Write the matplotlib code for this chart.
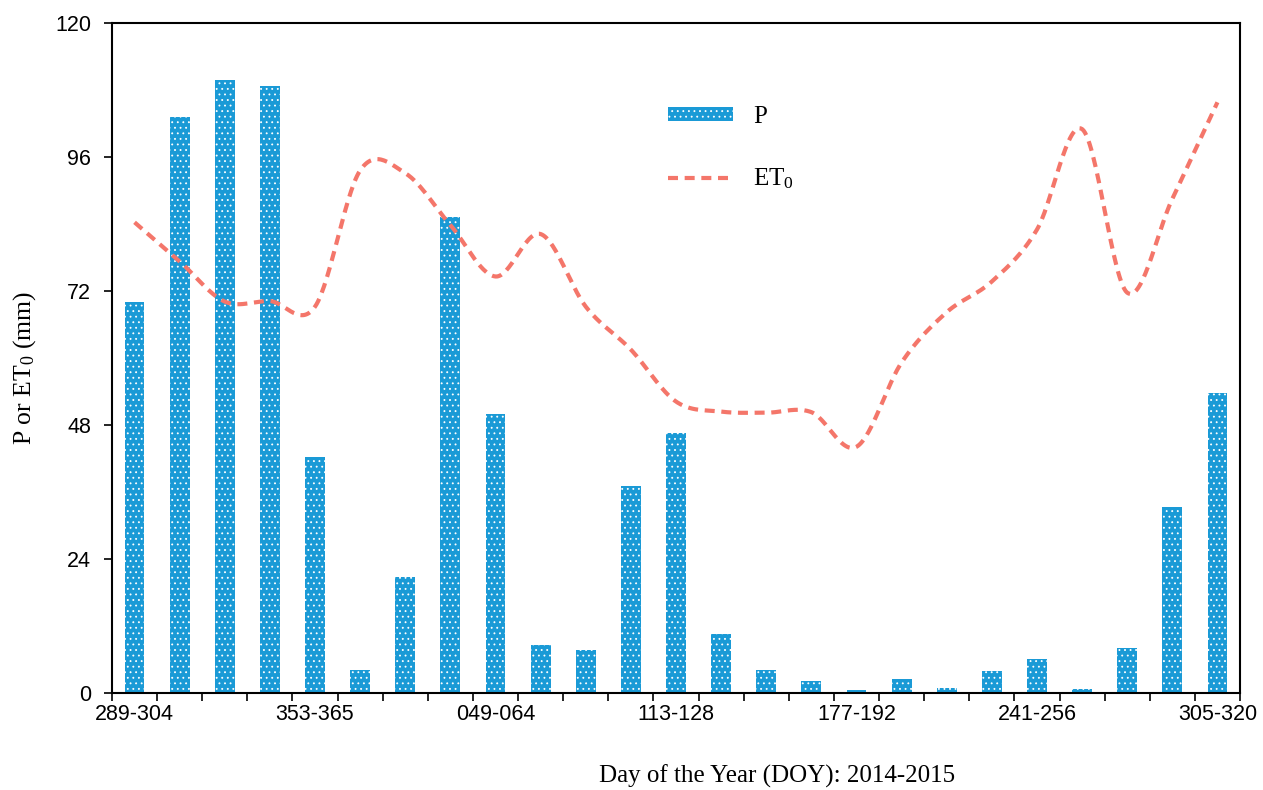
import numpy as np
import matplotlib
matplotlib.use("Agg")
from matplotlib import pyplot as plt

periods = ['289-304', '305-320', '321-336', '337-352', '353-365', '001-016',
           '017-032', '033-048', '049-064', '065-080', '081-096', '097-112',
           '113-128', '129-144', '145-160', '161-176', '177-192', '193-208',
           '209-224', '225-240', '241-256', '257-272', '273-288', '289-304',
           '305-320']

P = [70.1, 103.1, 109.8, 108.7, 42.3, 4.1, 20.8, 85.2, 49.9, 8.6, 7.7, 37.1,
     46.6, 10.6, 4.1, 2.2, 0.5, 2.5, 0.9, 3.9, 6.1, 0.7, 8.1, 33.4, 53.8]

ET0 = [84.3, 77.3, 70.1, 70.2, 69.2, 93.6, 93.1, 83.8, 74.6, 82.2, 69.2, 61.5,
       52.2, 50.4, 50.2, 50.3, 44.1, 59.2, 68.2, 73.7, 83.0, 101.0, 71.7, 88.5,
       105.8]

yticks = [0, 24, 48, 72, 96, 120]


def smooth(y, n=30):
    # catmull-rom curve through the points, like a spreadsheet "smoothed line"
    y = np.asarray(y, dtype=float)
    x = np.arange(len(y), dtype=float)
    m = np.zeros_like(y)
    m[1:-1] = (y[2:] - y[:-2]) / 2.0
    m[0] = y[1] - y[0]
    m[-1] = y[-1] - y[-2]
    xs, ys = [], []
    for i in range(len(y) - 1):
        t = np.linspace(0, 1, n, endpoint=False)
        h00 = 2 * t**3 - 3 * t**2 + 1
        h10 = t**3 - 2 * t**2 + t
        h01 = -2 * t**3 + 3 * t**2
        h11 = t**3 - t**2
        xs.append(x[i] + t)
        ys.append(h00 * y[i] + h10 * m[i] + h01 * y[i + 1] + h11 * m[i + 1])
    xs.append([x[-1]])
    ys.append([y[-1]])
    return np.concatenate(xs), np.concatenate(ys)


plt.rcParams['hatch.linewidth'] = 0.6
plt.rcParams['mathtext.fontset'] = 'custom'
plt.rcParams['mathtext.rm'] = 'Liberation Serif'
plt.rcParams['mathtext.it'] = 'Liberation Serif:italic'

fig = plt.figure(figsize=(12.63, 7.90), dpi=100)
ax = fig.add_axes([112 / 1263, 97 / 790, (1240 - 112) / 1263, (693 - 23) / 790])

blue = '#1a9ad6'
red = '#f4766a'
x = np.arange(len(P))

bars = ax.bar(x, P, width=0.44, color=blue, edgecolor='white', linewidth=0,
              hatch='...', label='P', zorder=2)

xs, ys = smooth(ET0)
line, = ax.plot(xs, ys, color=red, lw=3, dashes=(2.4, 1.6), label='ET$_0$', zorder=3)

ax.set_xlim(-0.5, len(P) - 0.5)
ax.set_ylim(0, 120)
ax.set_yticks(yticks)
ax.set_yticklabels([str(v) for v in yticks], fontsize=15.5, family='Liberation Sans')

ax.set_xticks(np.arange(-0.5, len(P), 1.0))
ax.set_xticklabels([])
ax.set_xticks(x[::4], minor=True)
ax.set_xticklabels([periods[i] for i in x[::4]], minor=True, fontsize=15.5,
                   family='Liberation Sans')
ax.tick_params(axis='x', which='minor', length=0, pad=8)
ax.tick_params(axis='x', which='major', length=6, width=1.2, direction='out')
ax.tick_params(axis='y', length=6, width=1.2, direction='out', pad=9)

for s in ax.spines.values():
    s.set_linewidth(1.5)

leg = ax.legend([bars, line], ['P', r'ET$_\mathrm{0}$'], loc='upper left',
                bbox_to_anchor=(0.493, 0.876), frameon=False,
                prop={'family': 'Liberation Serif', 'size': 18},
                handlelength=2.6, handleheight=0.5, labelspacing=1.55,
                handletextpad=0.8, borderpad=0, borderaxespad=0)

fig.text(777 / 1263, 14 / 790, 'Day of the Year (DOY): 2014-2015',
         ha='center', va='center', family='Liberation Serif', fontsize=18)
fig.text(25 / 1263, 1 - 368 / 790, r'P or ET$_\mathrm{0}$ (mm)', rotation=90,
         ha='center', va='center', family='Liberation Serif', fontsize=18.5)

plt.savefig('out.png', dpi=100)
